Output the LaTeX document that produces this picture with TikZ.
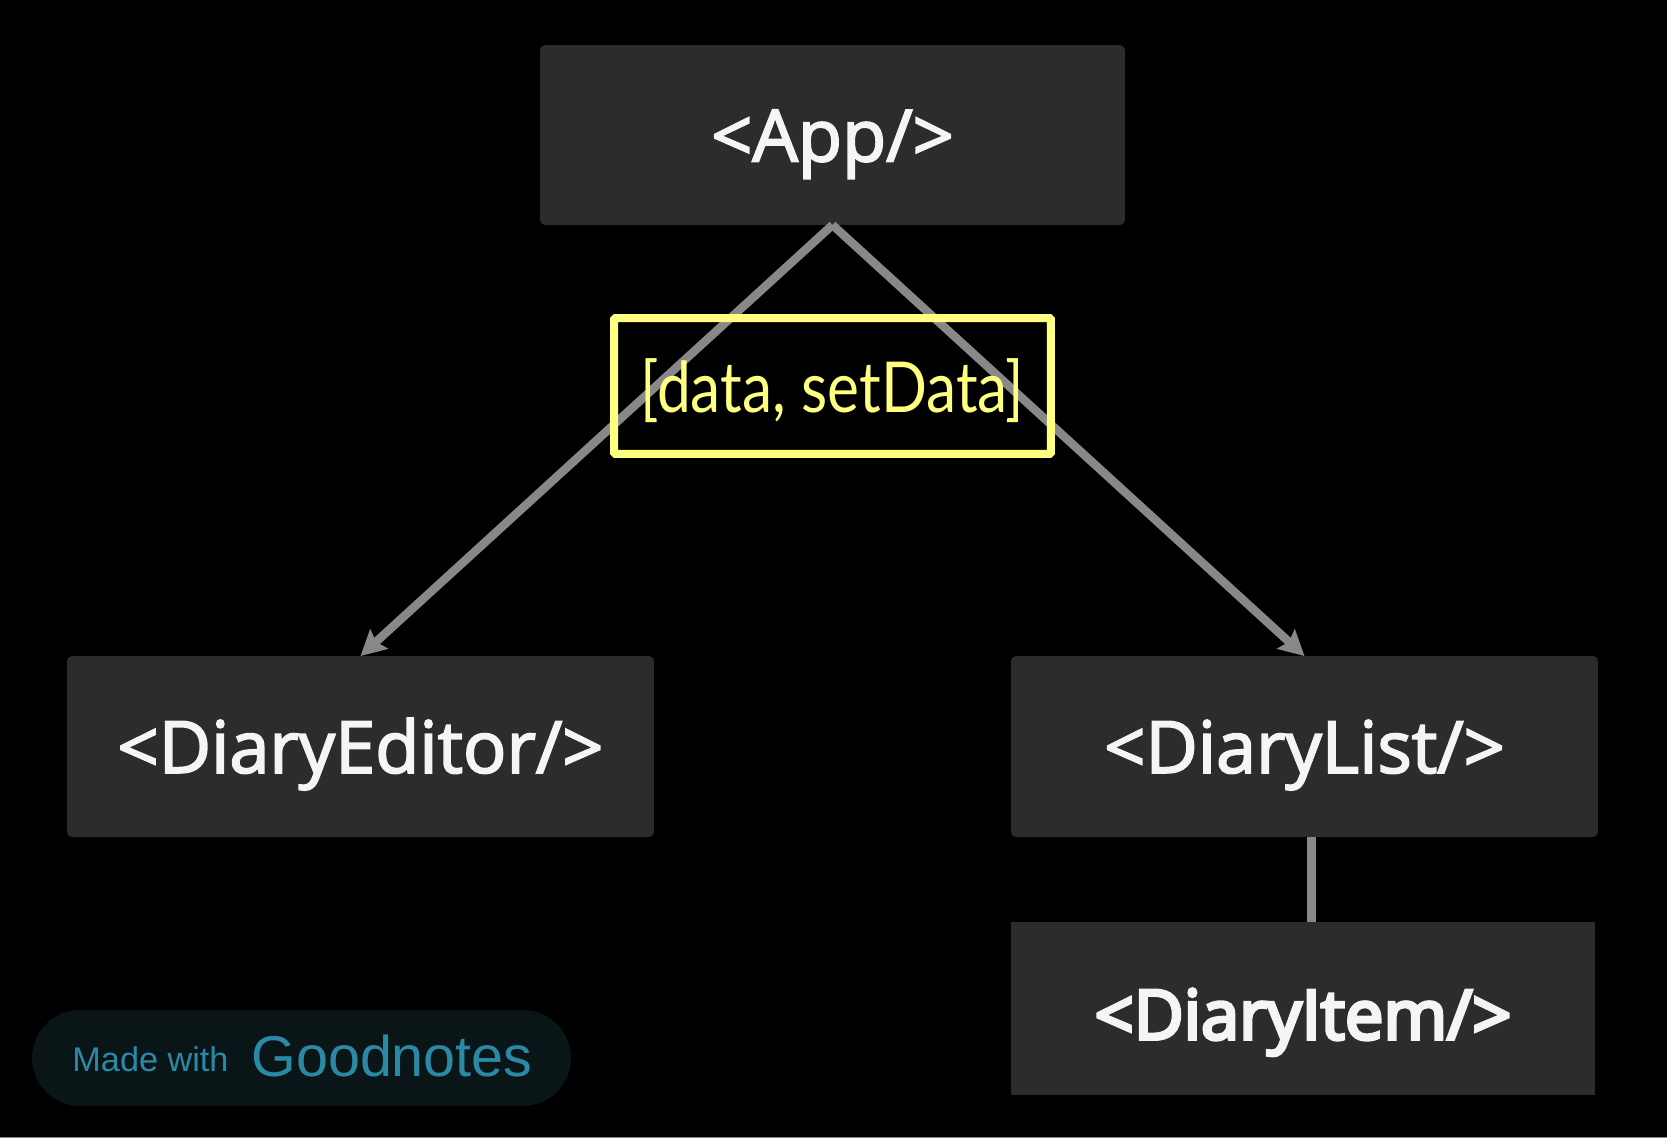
\documentclass[tikz,border=0pt]{standalone}
\usepackage{fontspec}
\setmainfont[FakeBold=2.5]{Open Sans}
\newfontfamily\itemfont[FakeBold=5]{Open Sans}
\newfontfamily\badgefont{Liberation Sans}
\newfontfamily\handfont[FakeStretch=0.86]{Lato}
\usetikzlibrary{arrows.meta}
\definecolor{boxgray}{HTML}{2C2C2C}
\definecolor{linegray}{HTML}{888888}
\definecolor{marker}{HTML}{FFFF80}
\definecolor{badgebg}{HTML}{0A1518}
\definecolor{badgeink}{HTML}{2A8AA5}
\tikzset{
  comp/.style={fill=boxgray, text=white!96!black, rounded corners=0.1cm, inner sep=0pt, outer sep=0pt, font=\fontsize{41}{41}\selectfont, text height=30pt, text depth=0pt},
  link/.style={draw=linegray, line width=0.17cm},
  tip/.style={-{Stealth[length=0.5cm, width=0.52cm, inset=0.08cm]}},
}
\begin{document}
\begin{tikzpicture}[x=0.02cm, y=-0.02cm]
      \useasboundingbox (0,0) rectangle (1667,1138);
      \fill[black] (0,0) rectangle (1667,1138);
      \fill[linegray] (0,1136.5) rectangle (1667,1138);

      % Nodes
      \node[comp, minimum width=11.7cm, minimum height=3.6cm] at (832.5,135) (app) {<App/>};
      \node[comp, minimum width=11.74cm, minimum height=3.62cm] at (360.5,746.5) (editor) {<DiaryEditor/>};
      \node[comp, minimum width=11.74cm, minimum height=3.62cm] at (1304.5,746.5) (list) {<DiaryList/>};
      \node[comp, rounded corners=0pt, font=\itemfont\fontsize{39}{39}\selectfont, text height=35pt, minimum width=11.68cm, minimum height=3.46cm] at (1303,1008.5) (item) {<DiaryItem/>};

      \draw[link, tip] (app.south) -- (editor.north);
      \draw[link, tip] (app.south) -- (list.north);
      \draw[link] ([xshift=0.14cm]list.south) -- ([xshift=0.14cm]list.south |- item.north);

      % Marker box over the links
      \node[draw=marker, line width=0.16cm, rounded corners=0.03cm, inner sep=0pt, minimum width=8.74cm, minimum height=2.72cm, text=marker, text height=30pt, text depth=0pt, font=\handfont\fontsize{40}{40}\selectfont] at (832.5,386) (state) {[data, setData]};

      % Badge
      \node[fill=badgebg, rounded corners=0.96cm, minimum width=10.78cm, minimum height=1.92cm, inner sep=0pt] at (301.5,1058) (badge) {};
      \node[text=badgeink, font=\badgefont\fontsize{19.5}{20}\selectfont, inner sep=0pt] at (150.5,1059) (made) {Made with};
      \node[text=badgeink, font=\badgefont\fontsize{32.7}{33}\selectfont, inner sep=0pt] at (392,1056) (goodnotes) {Goodnotes};
    \end{tikzpicture}
\end{document}
